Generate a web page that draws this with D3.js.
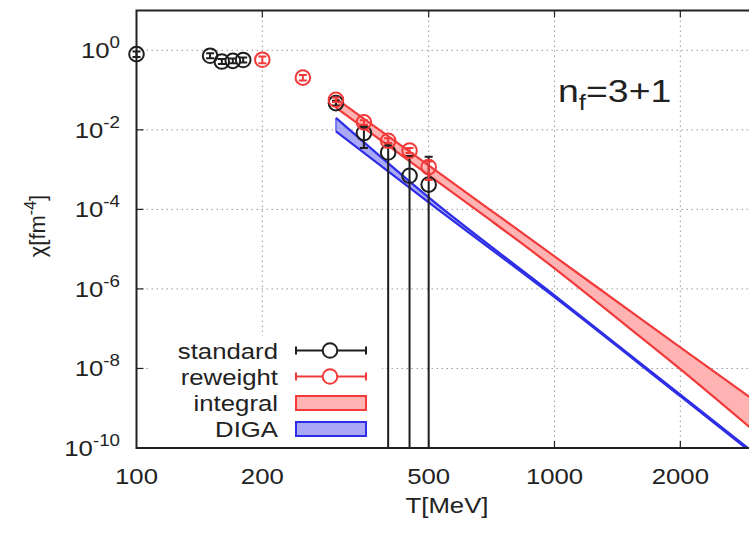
<!DOCTYPE html>
<html><head><meta charset="utf-8">
<script src="https://cdn.jsdelivr.net/npm/d3@7"></script>
<style>body{margin:0;background:#fff}svg text{font-family:"Liberation Sans",Arial,Helvetica,sans-serif;fill:#222}</style>
</head><body><svg id="c" width="749" height="534"></svg>
<script>
// ---- data ----
const xTicks = [100, 200, 500, 1000, 2000];
const yTickExp = [0, -2, -4, -6, -8, -10];
const stdT   = [100, 150, 160, 170, 180, 300, 350, 400, 450, 500];
const stdChi = [0.80, 0.73, 0.52, 0.54, 0.57, 0.047, 0.0083, 0.0027, 0.0007, 0.00042];
const stdLo  = [0.68, 0.63, 0.45, 0.47, 0.49, 0.041, 0.0035, 0, 0, 0];
const stdHi  = [0.93, 0.84, 0.60, 0.62, 0.66, 0.054, 0.0113, 0.0045, 0.0022, 0.0021];
const rwT    = [200, 250, 300, 350, 400, 450, 500];
const rwChi  = [0.58, 0.205, 0.057, 0.0154, 0.0053, 0.0030, 0.00116];
const rwLo   = [0.47, 0.175, 0.050, 0.0135, 0.0046, 0.0026, 0.00055];
const rwHi   = [0.70, 0.240, 0.065, 0.0175, 0.0061, 0.0035, 0.0016];
const intT   = [300, 500, 700, 1000, 1500, 2000, 3000];
const intLo  = [0.036, 7.3e-4, 5.5e-5, 3.3e-6, 1.1e-7, 9.6e-9, 2.7e-10];
const intHi  = [0.061, 1.27e-3, 9.9e-5, 6.6e-6, 3.0e-7, 3.4e-8, 1.6e-9];
const digaT  = [300, 500, 1000, 2000, 3000];
const digaLo = [0.0091, 1.5e-4, 6.2e-7, 2.0e-9, 6.9e-11];
const digaHi = [0.020, 2.0e-4, 6.9e-7, 2.2e-9, 7.6e-11];
const legendLabels = ["standard", "reweight", "integral", "DIGA"];

// ---- layout ----
const SX = 1.17;
const L = 136.5, T = 10.5, B = 448, R = 749;
const svg = d3.select("#c");
const x = d3.scaleLog().domain([100, 3000]).range([L, L + 418 * Math.log10(30)]);
const y = d3.scaleLog().domain([1e-10, 10]).range([B, T]);
const RED = "#f23a3a", BLUE = "#2e2ee6", BLK = "#1e1e1e";
const yc = v => y(Math.max(v, 1e-10));

svg.append("defs").append("clipPath").attr("id", "clip")
  .append("rect").attr("x", L - 15).attr("y", T).attr("width", R - L + 25).attr("height", B - T);

// grid
const grid = svg.append("g").attr("stroke", "#9a9a9a").attr("stroke-width", 1).attr("stroke-dasharray", "1.5,3.5");
xTicks.slice(1).forEach(t => grid.append("line").attr("x1", x(t)).attr("x2", x(t)).attr("y1", T).attr("y2", B));
yTickExp.slice(0, -1).forEach(e => grid.append("line").attr("x1", L).attr("x2", R).attr("y1", y(Math.pow(10, e))).attr("y2", y(Math.pow(10, e))));

const plot = svg.append("g").attr("clip-path", "url(#clip)");

// bands
function band(Ts, lo, hi, fill, stroke) {
  const a = d3.area().curve(d3.curveMonotoneX).x((d, i) => x(Ts[i])).y0((d, i) => y(lo[i])).y1((d, i) => y(hi[i]));
  plot.append("path").datum(Ts).attr("d", a).attr("fill", fill).attr("stroke", "none");
  const ln = arr => d3.line().curve(d3.curveMonotoneX).x((d, i) => x(Ts[i])).y((d, i) => y(arr[i]));
  plot.append("path").datum(Ts).attr("d", ln(lo)).attr("fill", "none").attr("stroke", stroke).attr("stroke-width", 2.2);
  plot.append("path").datum(Ts).attr("d", ln(hi)).attr("fill", "none").attr("stroke", stroke).attr("stroke-width", 2.2);
  plot.append("line").attr("x1", x(Ts[0])).attr("x2", x(Ts[0])).attr("y1", y(lo[0])).attr("y2", y(hi[0])).attr("stroke", stroke).attr("stroke-width", 1);
}
band(digaT, digaLo, digaHi, "#a9a9f6", BLUE);
band(intT, intLo, intHi, "#ffb3b3", RED);

// points with error bars
function points(Ts, v, lo, hi, col) {
  const g = plot.append("g").attr("stroke", col).attr("stroke-width", 2).attr("fill", "none");
  Ts.forEach((t, i) => {
    const cx = x(t);
    g.append("line").attr("x1", cx).attr("x2", cx).attr("y1", yc(lo[i])).attr("y2", yc(hi[i]));
    g.append("line").attr("x1", cx - 4).attr("x2", cx + 4).attr("y1", yc(hi[i])).attr("y2", yc(hi[i]));
    if (lo[i] > 0) g.append("line").attr("x1", cx - 4).attr("x2", cx + 4).attr("y1", yc(lo[i])).attr("y2", yc(lo[i]));
    g.append("circle").attr("cx", cx).attr("cy", y(v[i])).attr("r", 7.3);
  });
}
points(stdT, stdChi, stdLo, stdHi, BLK);
points(rwT, rwChi, rwLo, rwHi, RED);

// frame and ticks
const fr = svg.append("g").attr("stroke", "#222").attr("stroke-width", 2).attr("fill", "none");
fr.append("path").attr("d", `M${R + 2},${T} H${L} V${B} H${R + 2}`);
const tk = svg.append("g").attr("stroke", "#222").attr("stroke-width", 1.2);
xTicks.slice(1).forEach(t => {
  tk.append("line").attr("x1", x(t)).attr("x2", x(t)).attr("y1", B).attr("y2", B - 7);
  tk.append("line").attr("x1", x(t)).attr("x2", x(t)).attr("y1", T).attr("y2", T + 7);
});
yTickExp.slice(1, -1).forEach(e => tk.append("line").attr("x1", L).attr("x2", L + 7).attr("y1", y(Math.pow(10, e))).attr("y2", y(Math.pow(10, e))));

// text helper
function txt(px, py, size, anchor) {
  return svg.append("text").attr("transform", `translate(${px},${py}) scale(${SX},1)`)
    .attr("text-anchor", anchor).style("font-size", size + "px");
}
xTicks.forEach(t => txt(x(t), 484, 22, "middle").text(t));
yTickExp.forEach(e => {
  const t = txt(120, y(Math.pow(10, e)) + 8, 22, "end");
  t.append("tspan").text("10");
  t.append("tspan").attr("dy", -10).style("font-size", "16px").text(e);
});
txt(447, 513, 22, "middle").text("T[MeV]");
{
  const t = svg.append("text").attr("transform", "translate(45,226) rotate(-90)").attr("text-anchor", "middle").style("font-size", "22px");
  t.append("tspan").text("χ[fm");
  t.append("tspan").attr("dy", -9).style("font-size", "16px").text("-4");
  t.append("tspan").attr("dy", 9).text("]");
}
{
  const t = txt(558, 102, 32, "start");
  t.append("tspan").text("n");
  t.append("tspan").attr("dy", 8).style("font-size", "22px").text("f");
  t.append("tspan").attr("dy", -8).text("=3+1");
}

// legend
const lg = svg.append("g");
lg.append("rect").attr("x", 150).attr("y", 336).attr("width", 232).attr("height", B - 337).attr("fill", "#fff");
const rows = [350.5, 376.5, 403, 429];
const lcol = [BLK, RED, RED, BLUE];
legendLabels.forEach((s, i) => {
  txt(278, rows[i] + 8, 22, "end").text(s);
  const cy = rows[i];
  if (i < 2) {
    const g = lg.append("g").attr("stroke", lcol[i]).attr("stroke-width", 2).attr("fill", "none");
    g.append("line").attr("x1", 296).attr("x2", 366).attr("y1", cy).attr("y2", cy);
    g.append("line").attr("x1", 296).attr("x2", 296).attr("y1", cy - 4).attr("y2", cy + 4);
    g.append("line").attr("x1", 366).attr("x2", 366).attr("y1", cy - 4).attr("y2", cy + 4);
    g.append("circle").attr("cx", 330).attr("cy", cy).attr("r", 7.3).attr("fill", "#fff");
  } else {
    lg.append("rect").attr("x", 296).attr("y", cy - 7).attr("width", 70).attr("height", 14)
      .attr("fill", i === 2 ? "#ffb3b3" : "#a9a9f6").attr("stroke", lcol[i]).attr("stroke-width", 2);
  }
});
</script></body></html>
